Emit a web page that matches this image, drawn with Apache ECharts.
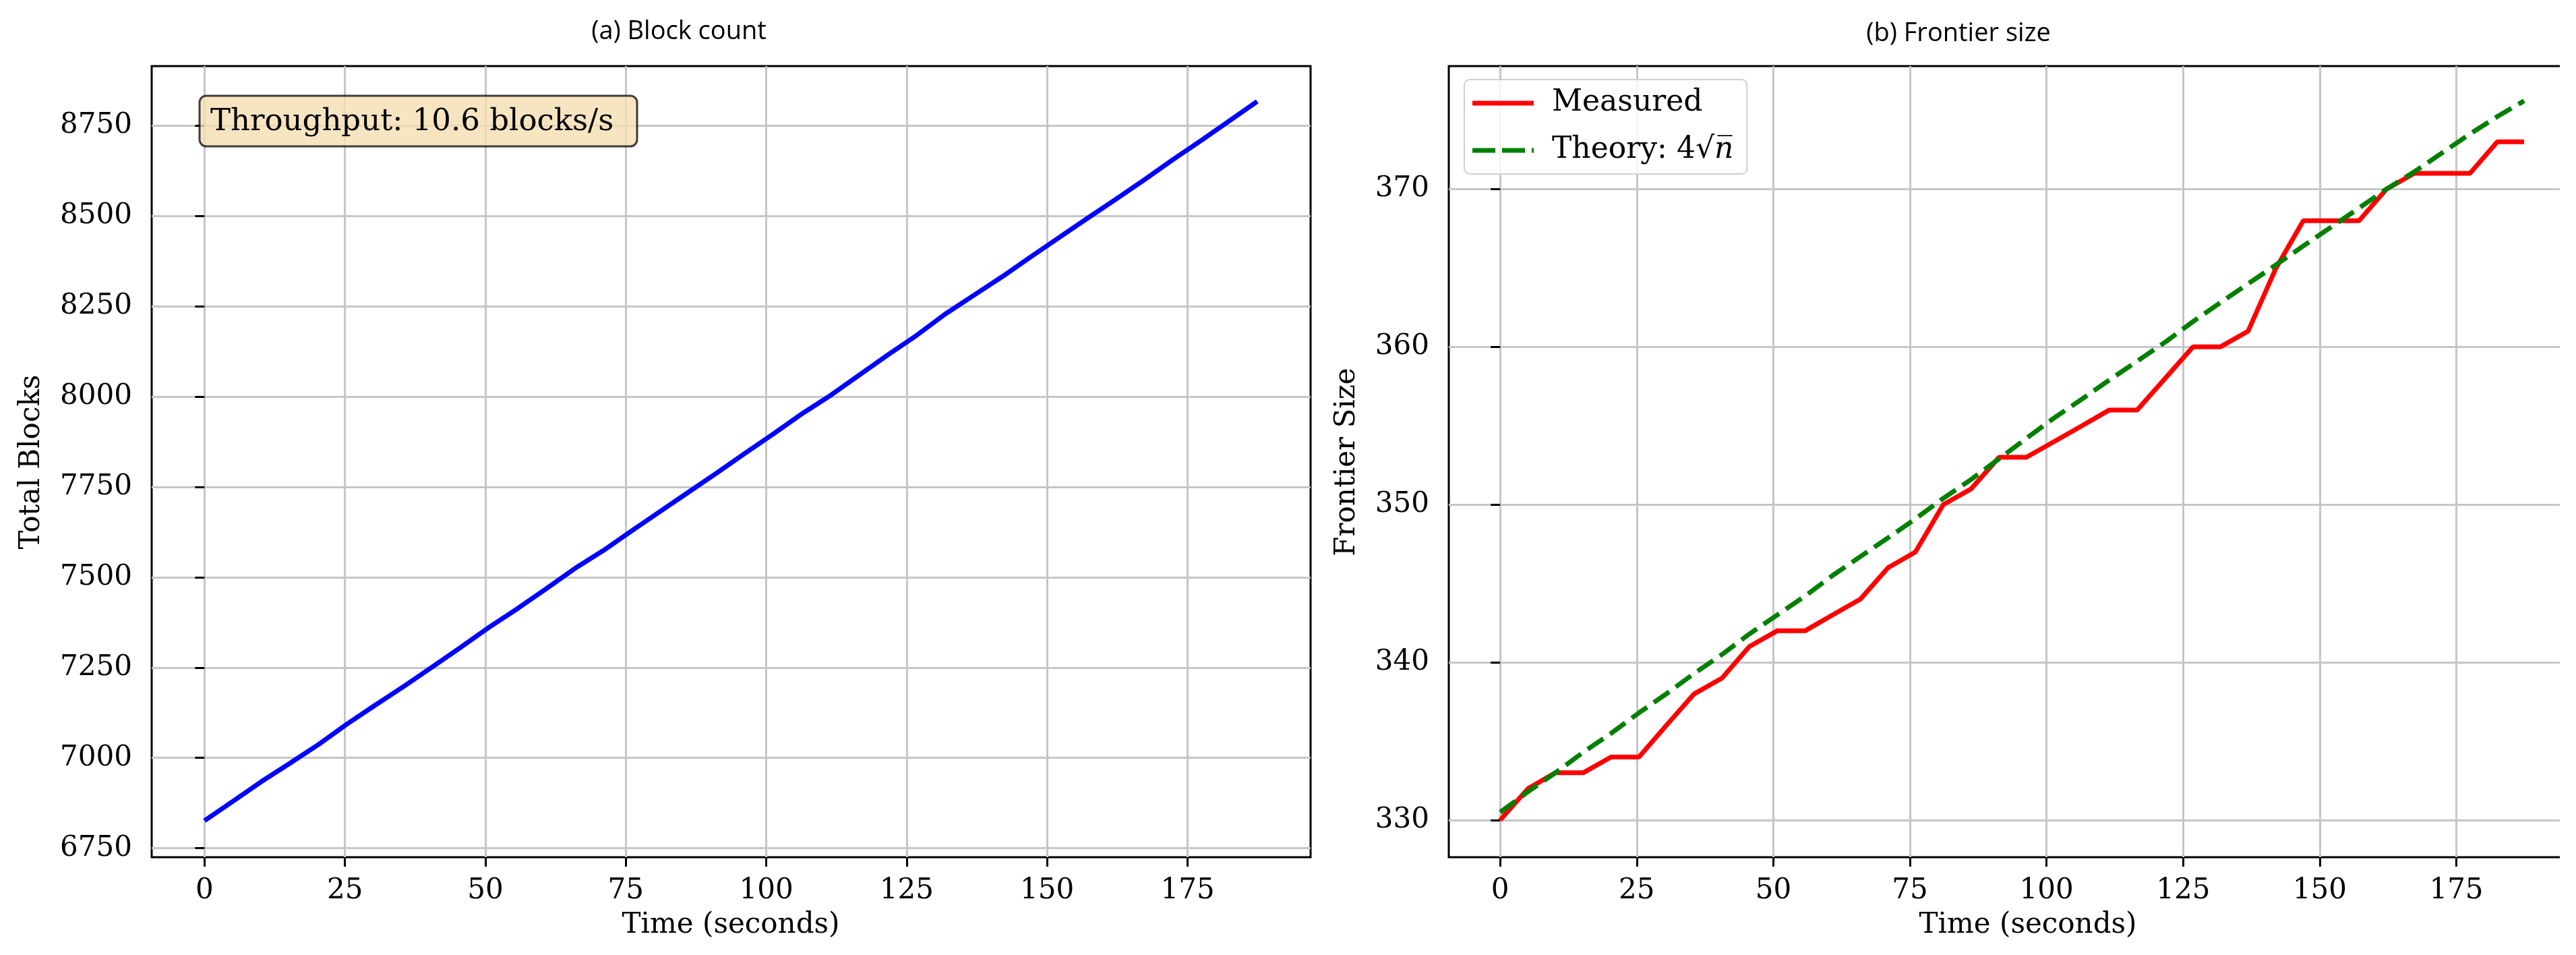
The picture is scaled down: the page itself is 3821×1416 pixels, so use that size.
<!DOCTYPE html>
<html>
<head>
<meta charset="utf-8">
<script src="https://cdn.jsdelivr.net/npm/echarts@6/dist/echarts.min.js"></script>
<style>
  html, body { margin: 0; padding: 0; background: #fff; }
  #main { width: 3821px; height: 1416px; }
</style>
</head>
<body>
<div id="main"></div>
<script>
var times = [0, 5.1, 10.1, 15.2, 20.3, 25.4, 30.4, 35.5, 40.6, 45.6, 50.7, 55.8, 60.8, 65.9, 71.0, 76.0,
  81.1, 86.2, 91.3, 96.3, 101.4, 106.5, 111.5, 116.6, 121.7, 126.8, 131.8, 136.9, 142.0, 147.0,
  152.1, 157.2, 162.2, 167.3, 172.4, 177.5, 182.5, 187.4];
var blocks = [6826, 6880, 6934, 6985, 7037, 7094, 7146, 7198, 7252, 7306, 7362, 7414, 7468, 7524, 7574, 7628,
  7682, 7736, 7790, 7844, 7898, 7954, 8004, 8060, 8116, 8170, 8228, 8280, 8332, 8386,
  8440, 8494, 8546, 8600, 8656, 8710, 8764, 8817];
var measured = [330, 332, 333, 333, 334, 334, 336, 338, 339, 341, 342, 342, 343, 344, 346, 347,
  350, 351, 353, 353, 354, 355, 356, 356, 358, 360, 360, 361, 365, 368,
  368, 368, 370, 371, 371, 371, 373, 373];
var theory = [330.5, 331.8, 333.0, 334.3, 335.5, 336.8, 338.0, 339.3, 340.5, 341.8, 343.0, 344.2, 345.5, 346.7, 347.9, 349.1,
  350.4, 351.6, 352.9, 354.2, 355.5, 356.7, 357.9, 359.1, 360.3, 361.6, 362.8, 364.0, 365.2, 366.4,
  367.6, 368.8, 370.0, 371.1, 372.3, 373.5, 374.6, 375.6];

var xTicks = [0, 25, 50, 75, 100, 125, 150, 175];
var blockTicks = [6750, 7000, 7250, 7500, 7750, 8000, 8250, 8500, 8750];
var frontierTicks = [330, 340, 350, 360, 370];

var SERIF = 'DejaVu Serif';

function pairs(xs, ys) {
    return xs.map(function (x, i) { return [x, ys[i]]; });
}

function valueAxis(gridIndex, min, max, ticks) {
    return {
        type: 'value',
        gridIndex: gridIndex,
        min: min,
        max: max,
        axisLine: { show: false },
        axisTick: { show: true, length: 14, customValues: ticks, lineStyle: { color: '#000', width: 3 } },
        axisLabel: {
            customValues: ticks, margin: 29, fontFamily: SERIF, fontSize: 42, color: '#000',
            formatter: function (v) { return String(v); }
        },
        splitLine: { show: true, lineStyle: { color: '#c6c6c6', width: 3 } }
    };
}

function label(text, x, y, size, rot, family) {
    return {
        type: 'text', x: x, y: y, rotation: rot || 0, z: 100,
        style: {
            text: text, fontFamily: family || SERIF, fontSize: size, fill: '#000',
            align: 'center', verticalAlign: 'middle', textAlign: 'center', textVerticalAlign: 'middle'
        }
    };
}

var myChart = echarts.init(document.getElementById('main'));
var option = {
    animation: false,
    backgroundColor: '#fff',
    grid: [
        { left: 225, top: 98, width: 1719, height: 1173, show: true, borderColor: '#000', borderWidth: 3 },
        { left: 2149, top: 98, width: 1719, height: 1173, show: true, borderColor: '#000', borderWidth: 3 }
    ],
    xAxis: [
        valueAxis(0, -9.4, 196.9, xTicks),
        valueAxis(1, -9.4, 196.9, xTicks)
    ],
    yAxis: [
        valueAxis(0, 6725, 8915, blockTicks),
        valueAxis(1, 327.65, 377.8, frontierTicks)
    ],
    legend: {
        orient: 'vertical',
        left: 2172,
        top: 118,
        data: [
            { name: 'Measured', icon: 'path://M0,0H91V7H0Z' },
            { name: 'Theory: 4√n', icon: 'path://M0,0H34V7H0Z M44,0H78V7H44Z M88,0H91V7H88Z' }
        ],
        itemWidth: 91,
        itemHeight: 7,
        itemGap: 26,
        padding: [13, 20, 13, 12],
        backgroundColor: 'rgba(255,255,255,0.8)',
        borderColor: '#d0d0d0',
        borderWidth: 2,
        borderRadius: 8,
        textStyle: {
            fontFamily: SERIF, fontSize: 44, lineHeight: 44, color: '#000', padding: [0, 0, 0, 22],
            rich: {
                t: { fontFamily: SERIF, fontSize: 44, color: '#000' },
                n: { fontFamily: SERIF, fontSize: 44, fontStyle: 'italic', color: '#000' }
            }
        },
        formatter: function (name) {
            if (name === 'Theory: 4√n') {
                return '{t|Theory: 4√}{n|n\u0305}';
            }
            return name;
        }
    },
    series: [
        {
            name: 'Total Blocks', type: 'line', xAxisIndex: 0, yAxisIndex: 0,
            data: pairs(times, blocks), symbol: 'none', z: 5,
            lineStyle: { color: '#0000ff', width: 7 }, itemStyle: { color: '#0000ff' }
        },
        {
            name: 'Measured', type: 'line', xAxisIndex: 1, yAxisIndex: 1,
            data: pairs(times, measured), symbol: 'none', z: 5,
            lineStyle: { color: '#ff0000', width: 7 }, itemStyle: { color: '#ff0000' }
        },
        {
            name: 'Theory: 4√n', type: 'line', xAxisIndex: 1, yAxisIndex: 1,
            data: pairs(times, theory), symbol: 'none', z: 6,
            lineStyle: { color: '#008000', width: 7, type: [28, 12] }, itemStyle: { color: '#008000' }
        }
    ],
    graphic: [
        label('(a) Block count', 1007, 47, 38, 0, 'Open Sans'),
        label('(b) Frontier size', 2905, 50, 38, 0, 'Open Sans'),
        label('Time (seconds)', 1084, 1372, 42),
        label('Time (seconds)', 3008, 1372, 42),
        label('Total Blocks', 47, 685, 42, Math.PI / 2),
        label('Frontier Size', 1998, 685, 42, Math.PI / 2),
        {
            type: 'rect', z: 90,
            shape: { x: 296, y: 142, width: 649, height: 75, r: 10 },
            style: { fill: 'rgba(245,222,179,0.8)', stroke: 'rgba(0,0,0,0.75)', lineWidth: 3 }
        },
        {
            type: 'text', x: 312, y: 181, z: 100,
            style: {
                text: 'Throughput: 10.6 blocks/s', fontFamily: SERIF, fontSize: 45, fill: '#000',
                verticalAlign: 'middle', textVerticalAlign: 'middle'
            }
        },
        // the reference image is cut off on the right side of panel (b)
        {
            type: 'rect', z: 200,
            shape: { x: 3797, y: 0, width: 40, height: 1416 },
            style: { fill: '#fff' }
        }
    ]
};
myChart.setOption(option);
</script>
</body>
</html>
